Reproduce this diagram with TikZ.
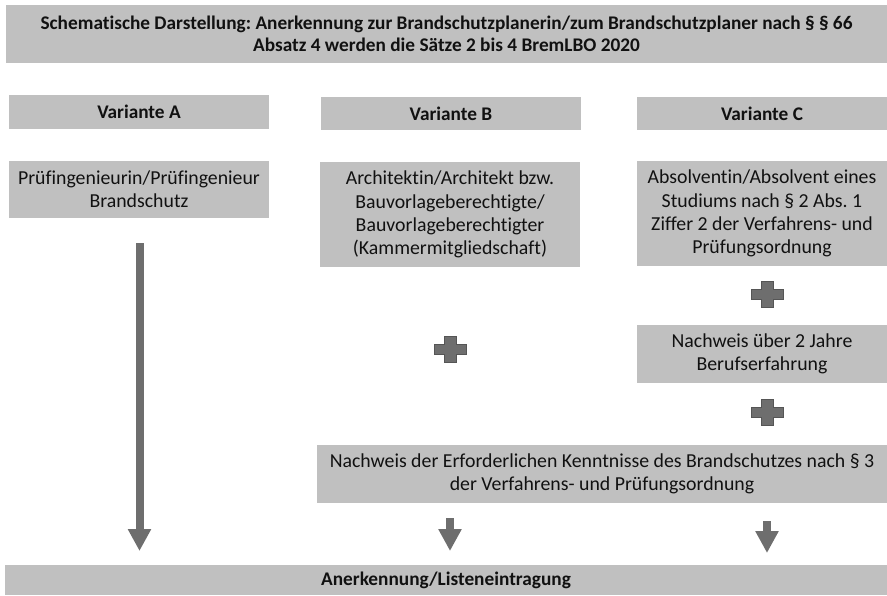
\documentclass[tikz,border=0pt]{standalone}
\usepackage{fontspec}
\setmainfont{Carlito}[Ligatures=CommonOff]
\usetikzlibrary{arrows.meta}
\frenchspacing
\definecolor{boxgray}{HTML}{C0C0C0}
\definecolor{arrgray}{HTML}{6E6E6E}
\definecolor{plusedge}{HTML}{555555}
\definecolor{txt}{HTML}{111111}
\tikzset{
  gbox/.style={fill=boxgray, draw=none, inner sep=0pt, align=center, text=txt,
    font=\frenchspacing\fontsize{19.8}{23.3}\selectfont},
  tbox/.style={gbox, font=\frenchspacing\bfseries\fontsize{19.3}{22.5}\selectfont},
  blockarrow/.style={draw=arrgray, line width=8pt,
    -{Triangle[width=22pt,length=22pt]}},
  plus/.pic={
    \fill[arrgray, draw=plusedge, line width=1pt]
      (-6,-13) -- (6,-13) -- (6,-5) -- (16,-5) -- (16,5) -- (6,5) -- (6,13)
      -- (-6,13) -- (-6,5) -- (-16,5) -- (-16,-5) -- (-6,-5) -- cycle;
  }
}
\begin{document}
\begin{tikzpicture}[x=1pt, y=-1pt]
\useasboundingbox (0,0) rectangle (887,595);
% title
\node[tbox, minimum width=881pt, minimum height=58pt] (title) at (446.5,34)
  {Schematische Darstellung: Anerkennung zur Brandschutzplanerin/zum Brandschutzplaner nach § § 66\\
   Absatz 4 werden die Sätze 2 bis 4 BremLBO 2020};
% variant headers
\node[tbox, minimum width=260pt, minimum height=34pt] (varA) at (139,112) {Variante A};
\node[tbox, minimum width=260pt, minimum height=33pt] (varB) at (451,113.5) {Variante B};
\node[tbox, minimum width=250pt, minimum height=33pt] (varC) at (762,113.5) {Variante C};
% content boxes
\node[gbox, minimum width=260pt, minimum height=57pt] (prA) at (139,189.5)
  {Prüfingenieurin/Prüfingenieur\\Brandschutz};
\node[gbox, minimum width=260pt, minimum height=105pt] (archB) at (450,214.5)
  {Architektin/Architekt bzw.\\Bauvorlageberechtigte/\\Bauvorlageberechtigter\\(Kammermitgliedschaft)};
\node[gbox, minimum width=250pt, minimum height=105pt] (absC) at (762,213.5)
  {Absolventin/Absolvent eines\\Studiums nach § 2 Abs. 1\\Ziffer 2 der Verfahrens- und\\Prüfungsordnung};
\node[gbox, minimum width=250pt, minimum height=58pt] (nachC) at (762,354)
  {Nachweis über 2 Jahre\\Berufserfahrung};
\node[gbox, minimum width=570pt, minimum height=58pt] (kennt) at (602,474)
  {Nachweis der Erforderlichen Kenntnisse des Brandschutzes nach § 3\\der Verfahrens- und Prüfungsordnung};
\node[tbox, minimum width=882pt, minimum height=30pt] (bottom) at (446,580)
  {Anerkennung/Listeneintragung};
% plus signs
\pic (plusB) at (450,349) {plus};
\pic (plusC1) at (767,294) {plus};
\pic (plusC2) at (767,412) {plus};
% arrows
\coordinate (aS) at (139.5,243);
\coordinate (aE) at (139.5,551);
\coordinate (bS) at (450,518);
\coordinate (bE) at (450,551);
\coordinate (cS) at (767,521);
\coordinate (cE) at (767,553);
\draw[blockarrow] (aS) -- (aE);
\draw[blockarrow] (bS) -- (bE);
\draw[blockarrow] (cS) -- (cE);
\end{tikzpicture}
\end{document}
